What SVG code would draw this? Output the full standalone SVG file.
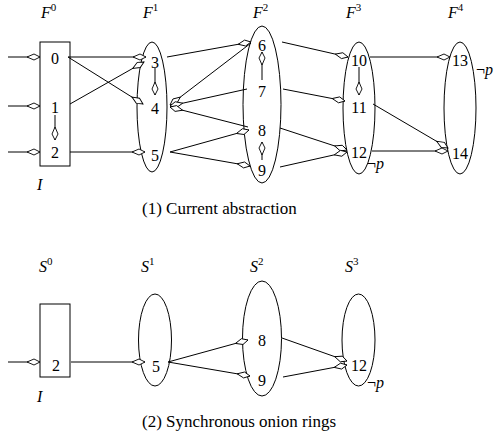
<svg xmlns="http://www.w3.org/2000/svg" width="495" height="437" viewBox="0 0 495 437" font-family="Liberation Serif, serif" font-size="16">
<style>
.n{text-anchor:middle}
.it{font-style:italic}
.s{font-size:11px;font-style:normal}
.cap{font-size:17px}
.e{fill:none;stroke:#000;stroke-width:1}
.c line{stroke:#000;stroke-width:1;marker-end:url(#a)}
</style>
<defs>
<marker id="a" markerUnits="userSpaceOnUse" viewBox="-14 -4 15 8" refX="0" refY="0" markerWidth="15" markerHeight="8" orient="auto">
<path d="M0,0 L-6,-3 L-13,0 L-6,3 Z" fill="#fff" stroke="#000" stroke-width="0.9"/>
</marker>
</defs>
<rect width="495" height="437" fill="#fff"/>

<text x="41" y="18" class="it">F<tspan class="s" dy="-7">0</tspan></text>
<text x="143" y="18" class="it">F<tspan class="s" dy="-7">1</tspan></text>
<text x="253" y="18" class="it">F<tspan class="s" dy="-7">2</tspan></text>
<text x="346" y="18" class="it">F<tspan class="s" dy="-7">3</tspan></text>
<text x="448" y="18" class="it">F<tspan class="s" dy="-7">4</tspan></text>

<g id="F0">
<rect x="40" y="42" width="30" height="124" class="e"/>
<text x="55" y="64" class="n">0</text>
<text x="55" y="113" class="n">1</text>
<text x="55" y="158" class="n">2</text>
<text x="37" y="190" class="it">I</text>
</g>
<g id="F1">
<ellipse cx="152" cy="107" rx="15" ry="65" class="e"/>
<text x="155" y="68" class="n">3</text>
<text x="155" y="114" class="n">4</text>
<text x="155" y="161" class="n">5</text>
</g>
<g id="F2">
<ellipse cx="262" cy="104.5" rx="19" ry="78.5" class="e"/>
<text x="262" y="51" class="n">6</text>
<text x="262" y="97" class="n">7</text>
<text x="262" y="136" class="n">8</text>
<text x="262" y="176" class="n">9</text>
</g>
<g id="F3">
<ellipse cx="359" cy="108" rx="16" ry="66" class="e"/>
<text x="359" y="66" class="n">10</text>
<text x="359" y="113" class="n">11</text>
<text x="359" y="158" class="n">12</text>
<text x="367" y="169"><tspan>¬</tspan><tspan class="it">p</tspan></text>
</g>
<g id="F4">
<ellipse cx="460" cy="108" rx="16" ry="66" class="e"/>
<text x="460" y="66" class="n">13</text>
<text x="460" y="159" class="n">14</text>
<text x="476" y="75"><tspan>¬</tspan><tspan class="it">p</tspan></text>
</g>

<text x="142" y="214" class="cap">(1) Current abstraction</text>

<text x="39" y="272" class="it">S<tspan class="s" dy="-7">0</tspan></text>
<text x="141" y="272" class="it">S<tspan class="s" dy="-7">1</tspan></text>
<text x="250" y="272" class="it">S<tspan class="s" dy="-7">2</tspan></text>
<text x="345" y="272" class="it">S<tspan class="s" dy="-7">3</tspan></text>

<g id="S0">
<rect x="40" y="304" width="30" height="73" class="e"/>
<text x="56" y="371" class="n">2</text>
<text x="37" y="402" class="it">I</text>
</g>
<g id="S1">
<ellipse cx="155" cy="340" rx="16.5" ry="46" class="e"/>
<text x="156" y="372" class="n">5</text>
</g>
<g id="S2">
<ellipse cx="262" cy="338.5" rx="19.5" ry="57.5" class="e"/>
<text x="262" y="346" class="n">8</text>
<text x="262" y="386" class="n">9</text>
</g>
<g id="S3">
<ellipse cx="358.5" cy="340" rx="16.5" ry="46" class="e"/>
<text x="359" y="371" class="n">12</text>
<text x="367" y="388"><tspan>¬</tspan><tspan class="it">p</tspan></text>
</g>

<text x="142" y="427" class="cap">(2) Synchronous onion rings</text>

<g id="connectors" class="c">
<line x1="8" y1="57" x2="40" y2="57"/>
<line x1="8" y1="106" x2="40" y2="106"/>
<line x1="8" y1="152" x2="40" y2="152"/>
<line x1="68" y1="57" x2="146" y2="57"/>
<line x1="68" y1="57" x2="143" y2="104"/>
<line x1="70" y1="104" x2="144" y2="62"/>
<line x1="55" y1="115" x2="55" y2="140"/>
<line x1="70" y1="152" x2="145" y2="152"/>
<line x1="155" y1="68" x2="155" y2="95"/>
<line x1="167" y1="57" x2="251" y2="42"/>
<line x1="251" y1="43" x2="170" y2="105"/>
<line x1="247" y1="89" x2="170" y2="106"/>
<line x1="248" y1="127" x2="170" y2="107"/>
<line x1="170" y1="152" x2="249" y2="130"/>
<line x1="170" y1="152" x2="250" y2="166"/>
<line x1="262" y1="80" x2="262" y2="52"/>
<line x1="262" y1="160" x2="262" y2="142"/>
<line x1="282" y1="42" x2="348" y2="57"/>
<line x1="283" y1="89" x2="345" y2="101"/>
<line x1="280" y1="128" x2="347" y2="150"/>
<line x1="280" y1="167" x2="347" y2="152"/>
<line x1="359" y1="67" x2="359" y2="95"/>
<line x1="370" y1="57" x2="450" y2="57"/>
<line x1="373" y1="104" x2="448" y2="148"/>
<line x1="372" y1="151" x2="448" y2="151"/>

<line x1="8" y1="362" x2="40" y2="362"/>
<line x1="71" y1="362" x2="145" y2="362"/>
<line x1="168" y1="362" x2="248" y2="340"/>
<line x1="168" y1="362" x2="250" y2="376"/>
<line x1="282" y1="338" x2="347" y2="361"/>
<line x1="283" y1="377" x2="347" y2="365"/>
</g>
</svg>
